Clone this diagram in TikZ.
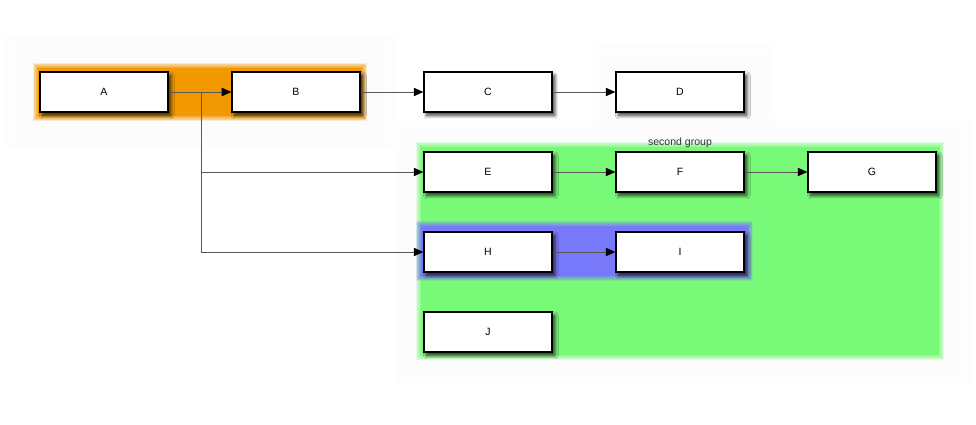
\documentclass[tikz,border=0pt]{standalone}
\usepackage{fontspec}
\setmainfont{Liberation Sans}
\usetikzlibrary{arrows.meta,shadows.blur}
\definecolor{grouporange}{RGB}{242,152,0}
\definecolor{groupgreen}{RGB}{120,250,120}
\definecolor{groupblue}{RGB}{120,120,250}
\tikzset{
  block/.style={draw=black, line width=0.9pt, fill=white, minimum width=3.2cm,
    minimum height=1cm, inner sep=0pt, font=\fontsize{7.5}{9}\selectfont,
    blur shadow={shadow xshift=2pt, shadow yshift=-2.4pt, shadow blur radius=2.5pt,
      shadow blur steps=8, shadow opacity=80}},
  link/.style={draw=black!65, line width=0.5pt, -{Triangle[length=2.4mm,width=2.1mm,black]}}
}
% soft-edged filled rectangle
\newcommand{\haze}[7]{%
  \fill[#1] (#2,#3) rectangle (#4,#5);
  \foreach \k in {1,...,8}{
    \fill[#1, opacity=#7] ({#2-\k*#6},{#3-\k*#6}) rectangle ({#4+\k*#6},{#5+\k*#6});
  }
}

\begin{document}
\begin{tikzpicture}[x=0.025cm, y=-0.025cm]
\useasboundingbox (0,0) rectangle (976,424);
% Halos
    \haze{black!1}{20}{50}{380}{133}{2}{0.3}
    \haze{black!1}{608}{60}{758}{120}{2}{0.3}
    \haze{black!1}{410}{134}{956}{370}{2}{0.3}
% Groups
    \haze{grouporange}{38}{68}{362}{116}{0.6}{0.16}
    \haze{groupgreen}{421}{147}{939}{355}{0.6}{0.16}
    \haze{groupblue}{421}{226}{748}{276}{0.6}{0.16}
    \node[font=\fontsize{7.5}{9}\selectfont, text=black!80] (grp) at (680,143) {second group};
% Boxes
    \node[block] (a) at (104,92) {A};
    \node[block] (b) at (296,92) {B};
    \node[block] (c) at (488,92) {C};
    \node[block] (d) at (680,92) {D};
    \node[block] (e) at (488,172) {E};
    \node[block] (f) at (680,172) {F};
    \node[block] (g) at (872,172) {G};
    \node[block] (h) at (488,252) {H};
    \node[block] (i) at (680,252) {I};
    \node[block] (j) at (488,332) {J};
% Links
    \coordinate (split) at (201,92);
    \draw[link] (a) -- (b);
    \draw[link] (b) -- (c);
    \draw[link] (c) -- (d);
    \draw[link] (split) |- (e);
    \draw[link] (split) |- (h);
    \draw[link] (e) -- (f);
    \draw[link] (f) -- (g);
    \draw[link] (h) -- (i);
\end{tikzpicture}
\end{document}
